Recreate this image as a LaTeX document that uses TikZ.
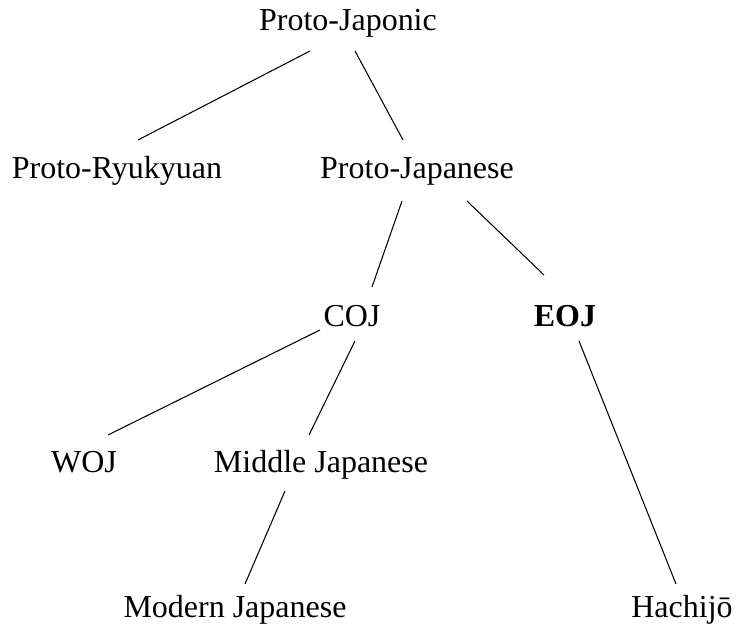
\documentclass[tikz,border=0pt]{standalone}
\usepackage{fontspec}
\setmainfont{Liberation Serif}
\usepackage{tikz}
\tikzset{lang/.style={anchor=base, inner sep=0pt, font=\fontsize{18.2}{22}\selectfont},
branch/.style={line width=0.6pt, color=black}}

\begin{document}
\begin{tikzpicture}
\useasboundingbox (0,0) rectangle (14.74,12.54);
\node (PJc) at (6.96,11.92) [lang] {Proto-Japonic};
\node (PRy) at (2.34,8.96) [lang] {Proto-Ryukyuan};
\node (PJa) at (8.34,8.96) [lang] {Proto-Japanese};
\node (COJ) at (7.04,6.00) [lang] {COJ};
\node (EOJ) at (11.30,6.00) [lang] {\textbf{EOJ}};
\node (WOJ) at (1.68,3.08) [lang] {WOJ};
\node (MJ) at (6.42,3.08) [lang] {Middle Japanese};
\node (ModJ) at (4.70,0.18) [lang] {Modern Japanese};
\node (Hch) at (13.64,0.18) [lang] {Hachijō};
\draw[branch] ([xshift=-0.76cm,yshift=-0.40cm]PJc.base) -- ([xshift=0.42cm,yshift=0.78cm]PRy.base);
\draw[branch] ([xshift=0.14cm,yshift=-0.40cm]PJc.base) -- ([xshift=-0.28cm,yshift=0.78cm]PJa.base);
\draw[branch] ([xshift=-0.30cm,yshift=-0.44cm]PJa.base) -- ([xshift=0.40cm,yshift=0.80cm]COJ.base);
\draw[branch] ([xshift=1.00cm,yshift=-0.44cm]PJa.base) -- ([xshift=-0.42cm,yshift=1.04cm]EOJ.base);
\draw[branch] ([xshift=-0.64cm,yshift=-0.06cm]COJ.base) -- ([xshift=0.48cm,yshift=0.76cm]WOJ.base);
\draw[branch] ([xshift=0.06cm,yshift=-0.28cm]COJ.base) -- ([xshift=-0.24cm,yshift=0.76cm]MJ.base);
\draw[branch] ([xshift=-0.72cm,yshift=-0.36cm]MJ.base) -- ([xshift=0.20cm,yshift=0.68cm]ModJ.base);
\draw[branch] ([xshift=0.28cm,yshift=-0.28cm]EOJ.base) -- ([xshift=-0.12cm,yshift=0.68cm]Hch.base);
\end{tikzpicture}
\end{document}
